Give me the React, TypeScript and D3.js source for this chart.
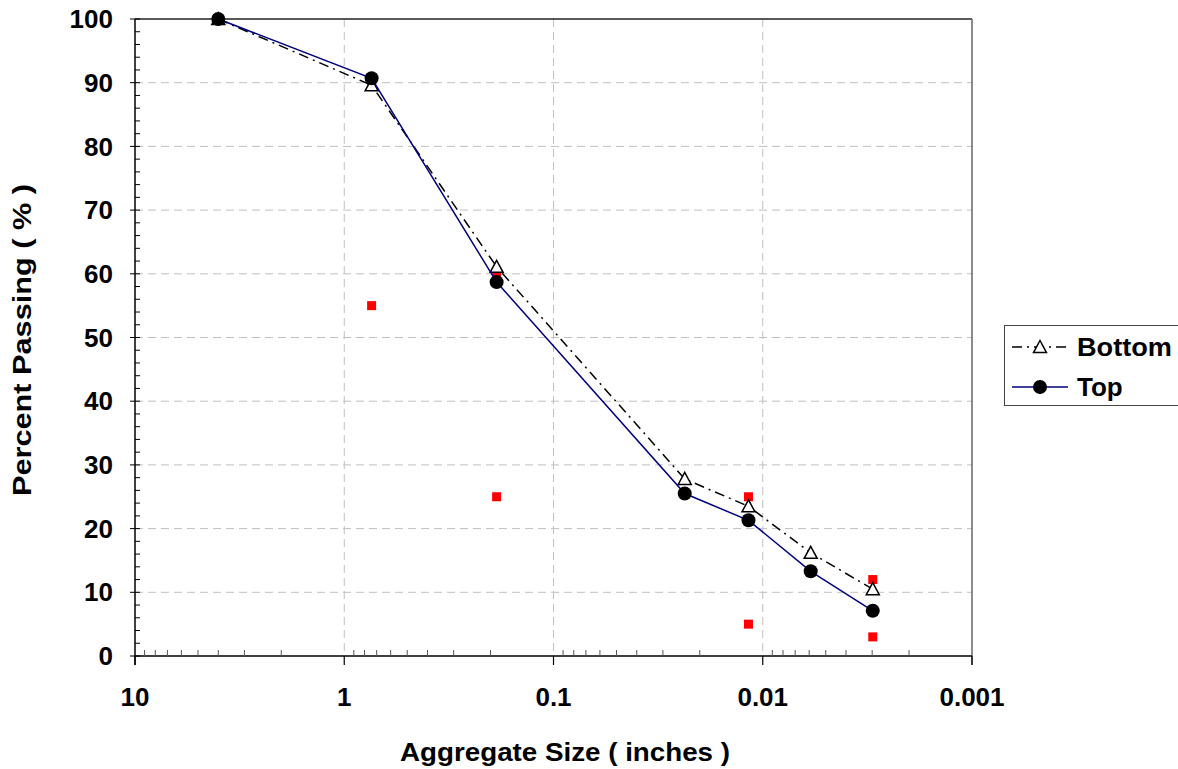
import React from "react";
import * as d3 from "d3";

const sizes = [4.0, 0.74, 0.187, 0.0236, 0.0117, 0.0059, 0.00298];
const bottomValues = [100, 89.6, 61.1, 27.8, 23.5, 16.2, 10.5];
const topValues = [100, 90.7, 58.7, 25.5, 21.3, 13.3, 7.1];
const specSizes = [4.0, 0.74, 0.74, 0.187, 0.187, 0.0117, 0.0117, 0.00298, 0.00298];
const specValues = [100, 90, 55, 60, 25, 25, 5, 12, 3];
const xTickValues = [10, 1, 0.1, 0.01, 0.001];
const xTickLabels = ["10", "1", "0.1", "0.01", "0.001"];
const yTickValues = [0, 10, 20, 30, 40, 50, 60, 70, 80, 90, 100];

const W = 1178, H = 769;
const L = 135, R = 972, T = 19, B = 656;
const FONT = "'Liberation Sans', Arial, sans-serif";

export default function App() {
  const x = d3.scaleLog().domain([10, 0.001]).range([L, R]);
  const y = d3.scaleLinear().domain([0, 100]).range([B, T]);
  const line = d3.line<number>().x((_, i) => x(sizes[i])).y((d) => y(d));

  const minorX: number[] = [];
  for (let e = -3; e < 1; e++) for (let m = 2; m <= 9; m++) minorX.push(m * Math.pow(10, e));
  const minorY = d3.range(0, 101, 2);

  const tri = (cx: number, cy: number) => {
    const s = 6.5;
    return `M${cx},${cy - s}L${cx + s},${cy + s * 0.85}L${cx - s},${cy + s * 0.85}Z`;
  };

  return (
    <svg width={W} height={H} style={{ position: "absolute", left: 0, top: 0, background: "#fff" }} fontFamily={FONT}>
      {/* grid */}
      {yTickValues.filter((v) => v > 0 && v < 100).map((v) => (
        <line key={"gy" + v} x1={L} x2={R} y1={y(v)} y2={y(v)} stroke="#c0c0c0" strokeWidth={1} strokeDasharray="8,5" />
      ))}
      {xTickValues.slice(1, 4).map((v) => (
        <line key={"gx" + v} x1={x(v)} x2={x(v)} y1={T} y2={B} stroke="#c0c0c0" strokeWidth={1} strokeDasharray="8,5" />
      ))}
      {/* frame */}
      <line x1={L} x2={R} y1={T} y2={T} stroke="#222" strokeWidth={1.5} />
      <line x1={R} x2={R} y1={T} y2={B + 9} stroke="#666" strokeWidth={1.5} />
      <line x1={L} x2={L} y1={T} y2={B + 9} stroke="#000" strokeWidth={1.5} />
      <line x1={L} x2={R} y1={B} y2={B} stroke="#000" strokeWidth={1.5} />
      {/* y ticks */}
      {minorY.map((v) => (
        <line key={"my" + v} x1={L} x2={L + 5} y1={y(v)} y2={y(v)} stroke="#000" strokeWidth={1} />
      ))}
      {yTickValues.map((v) => (
        <line key={"ty" + v} x1={L - 5} x2={L} y1={y(v)} y2={y(v)} stroke="#000" strokeWidth={1} />
      ))}
      {yTickValues.map((v) => (
        <text key={"ly" + v} x={113} y={y(v)} dy="0.35em" textAnchor="end" fontSize={26} fontWeight="bold">{v}</text>
      ))}
      {/* x ticks */}
      {minorX.map((v) => (
        <line key={"mx" + v} x1={x(v)} x2={x(v)} y1={B} y2={B - 6} stroke="#555" strokeWidth={1} />
      ))}
      {xTickValues.map((v) => (
        <line key={"tx" + v} x1={x(v)} x2={x(v)} y1={B} y2={B + 9} stroke="#000" strokeWidth={1.2} />
      ))}
      {xTickValues.map((v, i) => (
        <text key={"lx" + v} x={x(v)} y={697} dy="0.35em" textAnchor="middle" fontSize={26} fontWeight="bold">{xTickLabels[i]}</text>
      ))}
      {/* titles */}
      <text x={565} y={752} dy="0.35em" textAnchor="middle" fontSize={26} fontWeight="bold" textLength={330} lengthAdjust="spacingAndGlyphs">Aggregate Size ( inches )</text>
      <text transform={`translate(22,340) rotate(-90)`} dy="0.35em" textAnchor="middle" fontSize={26} fontWeight="bold" textLength={312} lengthAdjust="spacingAndGlyphs">Percent Passing ( % )</text>
      {/* spec points */}
      {specValues.map((v, i) => (
        <rect key={"s" + i} x={x(specSizes[i]) - 4.5} y={y(v) - 4.5} width={9} height={9} fill="#ff0000" />
      ))}
      {/* Bottom series */}
      <path d={line(bottomValues) || ""} fill="none" stroke="#000" strokeWidth={1.5} strokeDasharray="10,5,2,5" />
      {bottomValues.map((v, i) => (
        <path key={"b" + i} d={tri(x(sizes[i]), y(v))} fill="#fff" stroke="#000" strokeWidth={1.5} />
      ))}
      {/* Top series */}
      <path d={line(topValues) || ""} fill="none" stroke="#000080" strokeWidth={1.5} />
      {topValues.map((v, i) => (
        <circle key={"t" + i} cx={x(sizes[i])} cy={y(v)} r={7} fill="#000" />
      ))}
      {/* legend */}
      <rect x={1004.5} y={325.5} width={190} height={80} fill="#fff" stroke="#444" strokeWidth={1} />
      <line x1={1012} x2={1068} y1={347} y2={347} stroke="#000" strokeWidth={1.5} strokeDasharray="10,5,2,5" />
      <path d={tri(1040, 347)} fill="#fff" stroke="#000" strokeWidth={1.5} />
      <text x={1077} y={347} dy="0.35em" fontSize={26} fontWeight="bold" textLength={95} lengthAdjust="spacingAndGlyphs">Bottom</text>
      <line x1={1012} x2={1068} y1={387} y2={387} stroke="#000080" strokeWidth={1.5} />
      <circle cx={1040} cy={387} r={7} fill="#000" />
      <text x={1077} y={387} dy="0.35em" fontSize={26} fontWeight="bold">Top</text>
    </svg>
  );
}
